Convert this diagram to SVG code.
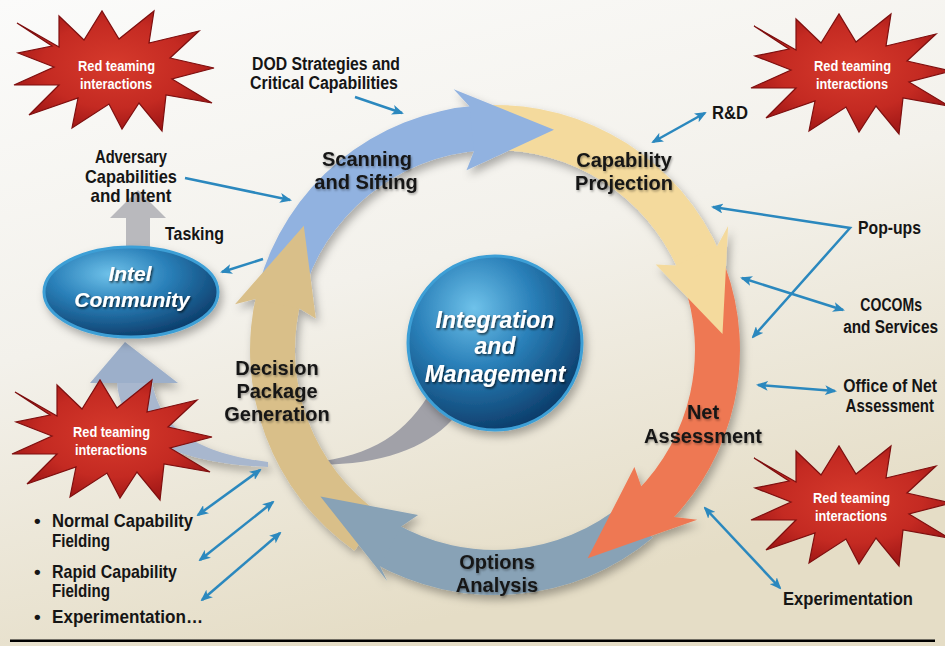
<svg xmlns="http://www.w3.org/2000/svg" width="945" height="646" viewBox="0 0 945 646">
<defs>
<linearGradient id="bg" x1="0" y1="0" x2="0.35" y2="1">
<stop offset="0" stop-color="#fbfbfa"/>
<stop offset="0.5" stop-color="#f3f1eb"/>
<stop offset="1" stop-color="#e5ddc6"/>
</linearGradient>
<radialGradient id="ball" cx="0.38" cy="0.3" r="0.75">
<stop offset="0" stop-color="#6fc2ea"/>
<stop offset="0.45" stop-color="#2a80b9"/>
<stop offset="1" stop-color="#0a3865"/>
</radialGradient>
<radialGradient id="burst" cx="0.5" cy="0.45" r="0.6">
<stop offset="0" stop-color="#d63a2c"/>
<stop offset="0.6" stop-color="#c42a22"/>
<stop offset="1" stop-color="#9a1414"/>
</radialGradient>
<filter id="sh" x="-20%" y="-20%" width="140%" height="140%">
<feDropShadow dx="3" dy="5" stdDeviation="4" flood-color="#000" flood-opacity="0.3"/>
</filter>
<filter id="tsh" x="-10%" y="-20%" width="120%" height="150%">
<feDropShadow dx="1" dy="1.5" stdDeviation="1.2" flood-color="#000" flood-opacity="0.35"/>
</filter>
<filter id="wsh" x="-10%" y="-20%" width="120%" height="150%">
<feDropShadow dx="1.2" dy="1.5" stdDeviation="0.8" flood-color="#000" flood-opacity="0.75"/>
</filter>
<marker id="ah" viewBox="0 0 12 10" refX="10" refY="5" markerWidth="12" markerHeight="10" markerUnits="userSpaceOnUse" orient="auto-start-reverse">
<path d="M0,0 L12,5 L0,10 L3,5 Z" fill="#2b88be"/>
</marker>
<path id="star" d="M -97 -50 L -55 -26 L -55 -57 L -30 -33 L -12 -62 L 5 -34 L 40 -62 L 35 -30 L 85 -42 L 56 -15 L 100 -5 L 58 6 L 98 30 L 52 22 L 48 58 L 25 30 L 8 56 L -5 31 L -42 55 L -36 25 L -85 42 L -55 12 L -100 12 L -60 -6 L -96 -20 L -62 -27 Z" fill="url(#burst)" stroke="#7e0f0f" stroke-width="1.2"/>
<style>
.t{font-family:"Liberation Sans",Arial,sans-serif;font-weight:bold;fill:#151515}
.r{font-size:20px;text-anchor:middle;filter:url(#tsh)}
.e{text-anchor:end}
.w{font-family:"Liberation Sans",Arial,sans-serif;font-weight:bold;font-style:italic;fill:#fff;text-anchor:middle;filter:url(#wsh)}
.rt{font-family:"Liberation Sans",Arial,sans-serif;font-weight:bold;fill:#fff;font-size:14.5px}
.cn{fill:none;stroke:#2b88be;stroke-width:2.5}
</style>
</defs>

<rect x="0" y="0" width="945" height="646" fill="url(#bg)"/>
<rect x="10" y="639.5" width="925" height="2.5" fill="#000"/>

<!-- swooshes behind ring -->
<g id="swoosh-intel" filter="url(#sh)">
<path d="M 117 382 C 120 430, 165 463, 268 467 L 268 462 C 190 452, 160 425, 152 382 Z" fill="#a8b7ce"/>
<path d="M 125 342 L 178 383 L 90 383 Z" fill="#9cafca"/>
</g>
<g id="swoosh-gray">
<path d="M 428 396 C 400 440, 365 458, 300 464 C 370 468, 422 452, 452 420 Z" fill="#a1a1a8"/>
</g>

<!-- ring -->
<g id="ring" filter="url(#sh)">
<path d="M 258.4 286.6 A 245 245 0 0 1 477.9 105.6 L 481.0 150.5 A 200 200 0 0 0 301.8 298.2 Z" fill="#91b2e0"/>
<path d="M 486.4 105.1 A 245 245 0 0 1 720.5 254.3 L 679.1 271.9 A 200 200 0 0 0 488.0 150.1 Z" fill="#f4da9d"/>
<path d="M 725.2 266.2 A 245 245 0 0 1 668.2 523.2 L 636.4 491.4 A 200 200 0 0 0 682.9 281.6 Z" fill="#ee7853"/>
<path d="M 652.5 537.7 A 245 245 0 0 1 372.5 562.2 L 395 523.2 A 200 200 0 0 0 623.6 503.2 Z" fill="#88a2b6"/>
<path d="M 354.5 550.7 A 245 245 0 0 1 257.3 290.7 L 300.9 301.6 A 200 200 0 0 0 380.3 513.8 Z" fill="#d9bf89"/>
<path d="M 469.4 106.3 L 453.7 89.2 L 554.0 129.8 L 466.5 170.2 L 474.1 151.1 Z" fill="#91b2e0"/>
<path d="M 717.0 246.5 L 728.1 226.1 L 722.5 334.1 L 655.7 264.6 L 676.3 265.5 Z" fill="#f4da9d"/>
<path d="M 674.2 517.1 L 697.2 519.7 L 587.7 558.3 L 634.4 467.0 L 641.3 486.4 Z" fill="#ee7853"/>
<path d="M 380.0 566.3 L 387.2 581.1 L 320.4 496.6 L 418.1 514.9 L 401.1 526.6 Z" fill="#88a2b6"/>
<path d="M 255.4 299.1 L 235.0 304.2 L 303.8 225.8 L 315.8 318.4 L 299.4 308.4 Z" fill="#d9bf89"/>
</g>

<!-- tasking arrow -->
<g id="tasking-arrow">
<path d="M 138 190 L 166 218 L 150 218 L 150 252 L 126 252 L 126 218 L 110 218 Z" fill="#b9b9bd"/>
</g>

<!-- center -->
<g id="integration" filter="url(#sh)">
<circle cx="495" cy="343" r="87" fill="url(#ball)" stroke="#3d9fd6" stroke-width="3"/>
</g>
<g id="intel" filter="url(#sh)">
<ellipse cx="131" cy="292" rx="87" ry="45" fill="url(#ball)" stroke="#3d9fd6" stroke-width="3"/>
</g>

<!-- starbursts -->
<g id="red-tl"><use href="#star" transform="translate(114,73)"/></g>
<g id="red-tr"><use href="#star" transform="translate(851,76)"/></g>
<g id="red-lb"><use href="#star" transform="translate(112,442)"/></g>
<g id="red-rb"><use href="#star" transform="translate(851,508)"/></g>

<!-- connectors -->
<g id="connectors">
<line class="cn" x1="185" y1="178" x2="290" y2="200" marker-end="url(#ah)"/>
<line class="cn" x1="355" y1="97" x2="402" y2="113" marker-end="url(#ah)"/>
<line class="cn" x1="653" y1="142" x2="705" y2="113" marker-start="url(#ah)" marker-end="url(#ah)"/>
<line class="cn" x1="263" y1="259" x2="222" y2="272" marker-end="url(#ah)"/>
<path class="cn" d="M 713 207 L 850 228 L 753 337" marker-start="url(#ah)" marker-end="url(#ah)"/>
<line class="cn" x1="742" y1="278" x2="843" y2="310" marker-start="url(#ah)" marker-end="url(#ah)"/>
<line class="cn" x1="758" y1="385" x2="835" y2="391" marker-start="url(#ah)" marker-end="url(#ah)"/>
<line class="cn" x1="705" y1="508" x2="780" y2="588" marker-start="url(#ah)" marker-end="url(#ah)"/>
<line class="cn" x1="198" y1="515" x2="260" y2="470" marker-start="url(#ah)" marker-end="url(#ah)"/>
<line class="cn" x1="200" y1="560" x2="273" y2="502" marker-start="url(#ah)" marker-end="url(#ah)"/>
<line class="cn" x1="202" y1="600" x2="280" y2="533" marker-start="url(#ah)" marker-end="url(#ah)"/>
</g>

<!-- texts -->
<g id="labels">
<text class="t" font-size="18" x="252" y="70" textLength="148" lengthAdjust="spacingAndGlyphs">DOD Strategies and</text>
<text class="t" font-size="18" x="250" y="89" textLength="148" lengthAdjust="spacingAndGlyphs">Critical Capabilities</text>
<text class="t" font-size="18" x="712" y="119" textLength="36" lengthAdjust="spacingAndGlyphs">R&amp;D</text>
<text class="t" font-size="19" x="95" y="163" textLength="72" lengthAdjust="spacingAndGlyphs">Adversary</text>
<text class="t" font-size="19" x="85" y="183" textLength="92" lengthAdjust="spacingAndGlyphs">Capabilities</text>
<text class="t" font-size="19" x="90.5" y="202" textLength="81" lengthAdjust="spacingAndGlyphs">and Intent</text>
<text class="t" font-size="19" x="165" y="240" textLength="59" lengthAdjust="spacingAndGlyphs">Tasking</text>
<text class="t e" font-size="19" transform="translate(921,234) scale(0.83,1)">Pop-ups</text>
<text class="t e" font-size="19" transform="translate(922,311) scale(0.74,1)">COCOMs</text>
<text class="t e" font-size="19" transform="translate(938,333) scale(0.81,1)">and Services</text>
<text class="t e" font-size="19" transform="translate(937,392) scale(0.83,1)">Office of Net</text>
<text class="t e" font-size="19" transform="translate(934,412) scale(0.79,1)">Assessment</text>
<text class="t" font-size="19" x="783" y="605" textLength="130" lengthAdjust="spacingAndGlyphs">Experimentation</text>
<text class="t" font-size="19" x="34" y="527">•</text>
<text class="t" font-size="19" x="52" y="527" textLength="141" lengthAdjust="spacingAndGlyphs">Normal Capability</text>
<text class="t" font-size="19" x="52" y="547" textLength="58" lengthAdjust="spacingAndGlyphs">Fielding</text>
<text class="t" font-size="19" x="34" y="578">•</text>
<text class="t" font-size="19" x="52" y="578" textLength="125" lengthAdjust="spacingAndGlyphs">Rapid Capability</text>
<text class="t" font-size="19" x="52" y="597" textLength="58" lengthAdjust="spacingAndGlyphs">Fielding</text>
<text class="t" font-size="19" x="34" y="623">•</text>
<text class="t" font-size="19" x="52" y="623" textLength="151" lengthAdjust="spacingAndGlyphs">Experimentation…</text>

<text class="t r" x="367" y="166">Scanning</text>
<text class="t r" x="366" y="189">and Sifting</text>
<text class="t r" x="624" y="167">Capability</text>
<text class="t r" x="624" y="190">Projection</text>
<text class="t r" x="703" y="419">Net</text>
<text class="t r" x="703" y="443">Assessment</text>
<text class="t r" x="497" y="569">Options</text>
<text class="t r" x="497" y="592">Analysis</text>
<text class="t r" x="277" y="375">Decision</text>
<text class="t r" x="277" y="398">Package</text>
<text class="t r" x="277" y="421">Generation</text>

<text class="w" font-size="23" x="495" y="328">Integration</text>
<text class="w" font-size="23" x="495" y="354">and</text>
<text class="w" font-size="23" x="495" y="382">Management</text>
<text class="w" font-size="21" x="130" y="281">Intel</text>
<text class="w" font-size="21" x="132" y="307">Community</text>

<text class="rt" x="78" y="71" textLength="77" lengthAdjust="spacingAndGlyphs">Red teaming</text>
<text class="rt" x="80" y="89" textLength="72" lengthAdjust="spacingAndGlyphs">interactions</text>
<text class="rt" x="814" y="71" textLength="77" lengthAdjust="spacingAndGlyphs">Red teaming</text>
<text class="rt" x="816" y="89" textLength="72" lengthAdjust="spacingAndGlyphs">interactions</text>
<text class="rt" x="73" y="437" textLength="77" lengthAdjust="spacingAndGlyphs">Red teaming</text>
<text class="rt" x="75" y="455" textLength="72" lengthAdjust="spacingAndGlyphs">interactions</text>
<text class="rt" x="813" y="503" textLength="77" lengthAdjust="spacingAndGlyphs">Red teaming</text>
<text class="rt" x="815" y="521" textLength="72" lengthAdjust="spacingAndGlyphs">interactions</text>
</g>
</svg>
